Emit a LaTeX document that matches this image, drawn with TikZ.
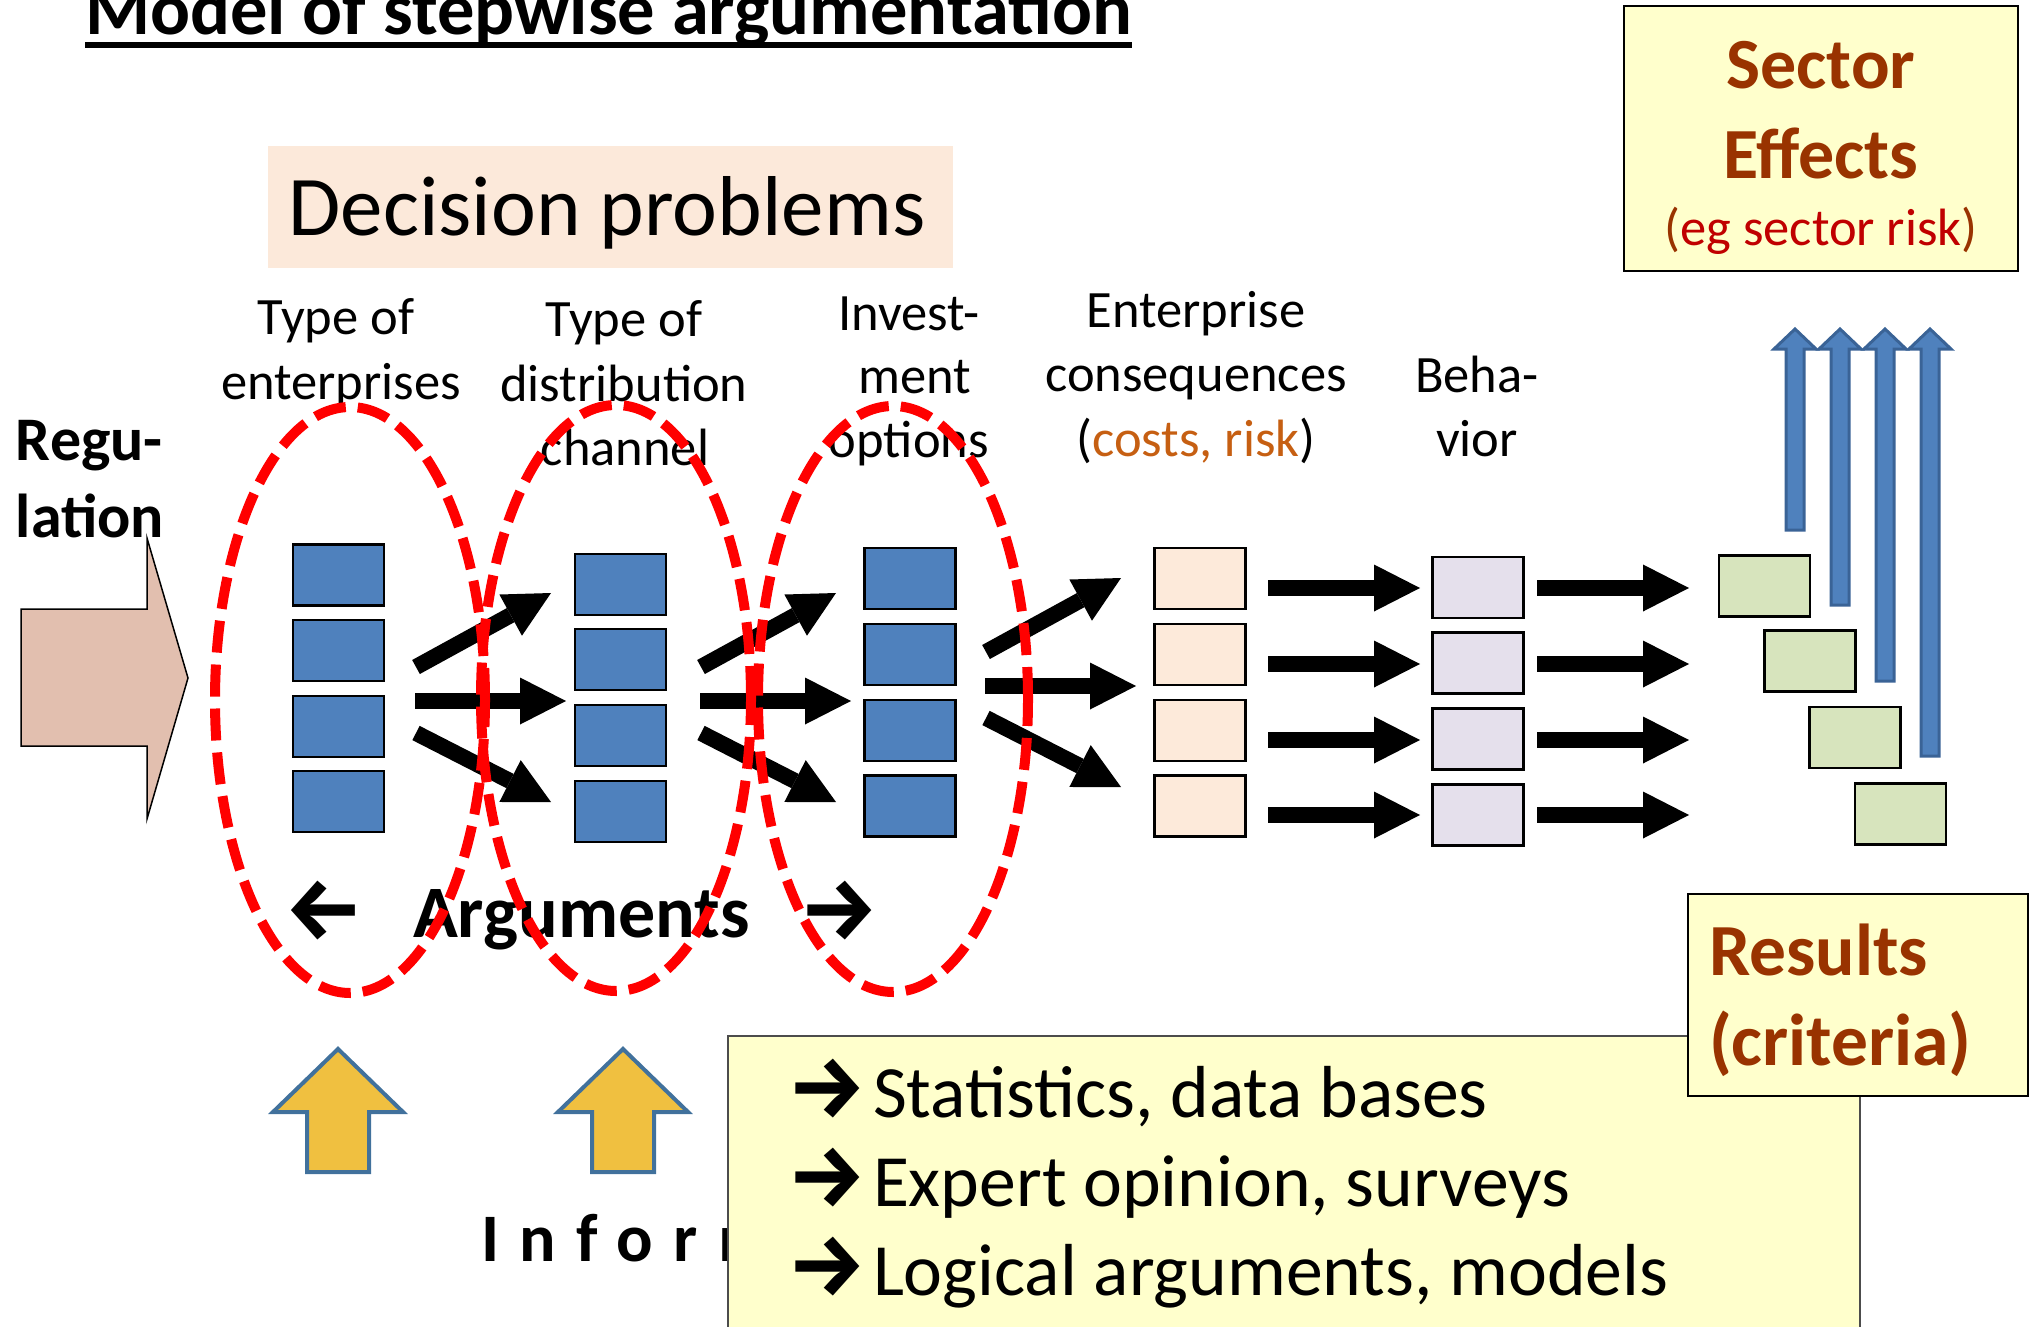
\documentclass[tikz,border=0pt]{standalone}
\usepackage{fontspec}
\setmainfont{Carlito}
\newfontfamily\arrowfont{Fira Sans}
\usetikzlibrary{arrows.meta,shapes.geometric}
\definecolor{cellblue}{HTML}{4F81BD}
\definecolor{cellpeach}{HTML}{FDEADA}
\definecolor{celllav}{HTML}{E5E0EC}
\definecolor{cellgreen}{HTML}{D7E4BD}
\definecolor{paleyellow}{HTML}{FFFFCC}
\definecolor{dpfill}{HTML}{FCE9DA}
\definecolor{brownt}{HTML}{993300}
\definecolor{darkredt}{HTML}{C00000}
\definecolor{costorange}{HTML}{C65F12}
\definecolor{regfill}{HTML}{E2BFAF}
\definecolor{goldfill}{HTML}{F0C040}
\definecolor{goldline}{HTML}{41719C}
\definecolor{upline}{HTML}{3A6396}
\newcommand\setfs[1]{\fontsize{#1}{#1}\selectfont}
\newcommand\bigarr[1]{\makebox[86pt][l]{\fontsize{88}{88}\selectfont\arrowfont\bfseries #1}}
\begin{document}
\begin{tikzpicture}[x=1pt,y=-1pt,
  every node/.style={inner sep=0pt,outer sep=0pt},
  cell/.style={draw=black,line width=2.5pt,minimum width=91pt,minimum height=61pt},
  blockarrow/.style={line width=16pt,-{Triangle[length=46pt,width=47pt,line width=0pt]}},
  upblock/.style={fill=cellblue,draw=upline,line width=3pt,line join=miter},
  goldblock/.style={fill=goldfill,draw=goldline,line width=4pt,line join=miter},
  groupell/.style={ellipse,draw=red,line width=10pt,dash pattern=on 32pt off 12pt,minimum width=270pt,minimum height=586pt},
  hdr/.style={anchor=base,font=\setfs{52.5}},
  notebox/.style={draw=black,line width=2.5pt,fill=paleyellow}]
\useasboundingbox (0,0) rectangle (2031,1327);

% regulation arrow
\draw[fill=regfill,line width=1.5pt,line join=miter] (21,609) -- (147,609) -- (147,538) -- (188,678) -- (147,819) -- (147,746) -- (21,746) -- cycle;

% information arrows (gold)
\foreach \cx in {338,623}{
  \draw[goldblock] (\cx,1049) -- (\cx+65,1112) -- (\cx+31,1112) -- (\cx+31,1172) -- (\cx-31,1172) -- (\cx-31,1112) -- (\cx-65,1112) -- cycle;
}

% cells
\foreach \yy [count=\i] in {575,650.5,726.5,801.5}
  \node[cell,fill=cellblue] (a\i) at (338.5,\yy) {};
\foreach \yy [count=\i] in {584.5,659.5,735.5,811.5}
  \node[cell,fill=cellblue] (b\i) at (620.5,\yy) {};
\foreach \yy [count=\i] in {578.5,654.5,730.5,806}
  \node[cell,fill=cellblue] (c\i) at (910,\yy) {};
\foreach \yy [count=\i] in {578.5,654.5,730.5,806}
  \node[cell,fill=cellpeach] (d\i) at (1200,\yy) {};
\foreach \yy [count=\i] in {587.5,663,739,815}
  \node[cell,fill=celllav] (e\i) at (1478,\yy) {};
\node[cell,fill=cellgreen] (f1) at (1764.5,586) {};
\node[cell,fill=cellgreen] (f2) at (1810,661) {};
\node[cell,fill=cellgreen] (f3) at (1855,737.5) {};
\node[cell,fill=cellgreen] (f4) at (1900.5,814) {};

% black block arrows (fan-outs)
\foreach \g/\dx/\dy in {ab/0/0, bc/285/0, cd/570/-15}{
  \coordinate (\g us) at (416+\dx,667+\dy);
  \coordinate (\g ue) at (551+\dx,593+\dy);
  \coordinate (\g hs) at (415+\dx,701+\dy);
  \coordinate (\g he) at (566+\dx,701+\dy);
  \coordinate (\g ds) at (416+\dx,733+\dy);
  \coordinate (\g de) at (551+\dx,802+\dy);
  \draw[blockarrow] (\g us) -- (\g ue);
  \draw[blockarrow] (\g hs) -- (\g he);
  \draw[blockarrow] (\g ds) -- (\g de);
}
% straight arrows
\foreach \yy [count=\i] in {588,664,740,815}{
  \coordinate (de\i s) at (1268,\yy);
  \coordinate (de\i e) at (1420,\yy);
  \coordinate (ef\i s) at (1537,\yy);
  \coordinate (ef\i e) at (1689,\yy);
  \draw[blockarrow] (de\i s) -- (de\i e);
  \draw[blockarrow] (ef\i s) -- (ef\i e);
}

% blue up arrows
\foreach \cx/\by in {1795/530,1840/605,1885/681,1930/756}{
  \draw[upblock] (\cx-9,\by) -- (\cx-9,349) -- (\cx-21,349) -- (\cx,329) -- (\cx+21,349) -- (\cx+9,349) -- (\cx+9,\by) -- cycle;
}

% title
\node[anchor=base west,font=\setfs{74.5}\bfseries] (title) at (85,35) {Model of stepwise argumentation};
\draw[line width=6pt] ([yshift=-10pt]title.base west) -- ([yshift=-10pt]title.base east);

% decision problems
\node[fill=dpfill,minimum width=685pt,minimum height=122pt] (dpbox) at (610,207) {};
\node[anchor=base,font=\setfs{85}] (dptext) at (607,235) {Decision problems};

% headers
\node[hdr] (h1a) at (336,334) {Type of};
\node[hdr] (h1b) at (341,399) {enterprises};
\node[hdr] (h2a) at (624,336) {Type of};
\node[hdr] (h2b) at (624,401) {distribution};
\node[hdr] (h2c) at (625,465) {channel};
\node[hdr] (h3a) at (909,330) {Invest-};
\node[hdr] (h3b) at (915,393) {ment};
\node[hdr] (h3c) at (909,457) {options};
\node[hdr] (h4a) at (1196,327) {Enterprise};
\node[hdr] (h4b) at (1196,391) {consequences};
\node[hdr] (h4c) at (1196,456) {(\textcolor{costorange}{costs, risk})};
\node[hdr] (h5a) at (1477,392) {Beha-};
\node[hdr] (h5b) at (1477,456) {vior};

% regulation label
\node[anchor=base west,font=\setfs{62}\bfseries] (reg1) at (16,460) {Regu-};
\node[anchor=base west,font=\setfs{62}\bfseries] (reg2) at (16,537) {lation};

% arguments
\node[anchor=base west,font=\setfs{74}\bfseries] (args) at (413,937) {Arguments};
\node[anchor=center,font=\setfs{88}\arrowfont\bfseries] (largs) at (324,911) {←};
\node[anchor=center,font=\setfs{88}\arrowfont\bfseries] (rargs) at (839,911) {→};

% information (partly hidden)
\node[anchor=base west,font=\setfs{68}\bfseries\addfontfeature{LetterSpace=30}] (info) at (481,1261) {Information};

% dashed groups
\node[groupell] (g1) at (350,700) {};
\node[groupell] (g2) at (616,698) {};
\node[groupell] (g3) at (893,699) {};

% sector effects box
\node[notebox,minimum width=394pt,minimum height=265pt] (sector) at (1821,138.5) {};
\node[anchor=base,font=\setfs{72}\bfseries,text=brownt] (sec1) at (1821,89) {Sector};
\node[anchor=base,font=\setfs{72}\bfseries,text=brownt] (sec2) at (1821,178) {Effects};
\node[anchor=base,font=\setfs{52.5},text=brownt] (sec3) at (1821,245) {(\textcolor{darkredt}{eg sector risk})};

% information sources box
\node[draw=black!70,line width=2pt,fill=paleyellow,minimum width=1132pt,minimum height=304pt] (srcbox) at (1294,1188) {};
\node[anchor=base west,font=\setfs{73.7}] (src1) at (787,1117) {\bigarr{→}Statistics, data bases};
\node[anchor=base west,font=\setfs{73.7}] (src2) at (787,1206) {\bigarr{→}Expert opinion, surveys};
\node[anchor=base west,font=\setfs{73.7}] (src3) at (787,1295) {\bigarr{→}Logical arguments, models};

% results box
\node[notebox,minimum width=340pt,minimum height=202pt] (results) at (1858,995) {};
\node[anchor=base west,font=\setfs{73.5}\bfseries,text=brownt] (res1) at (1709,975) {Results};
\node[anchor=base west,font=\setfs{73.5}\bfseries,text=brownt] (res2) at (1709,1065) {(criteria)};
\end{tikzpicture}
\end{document}
